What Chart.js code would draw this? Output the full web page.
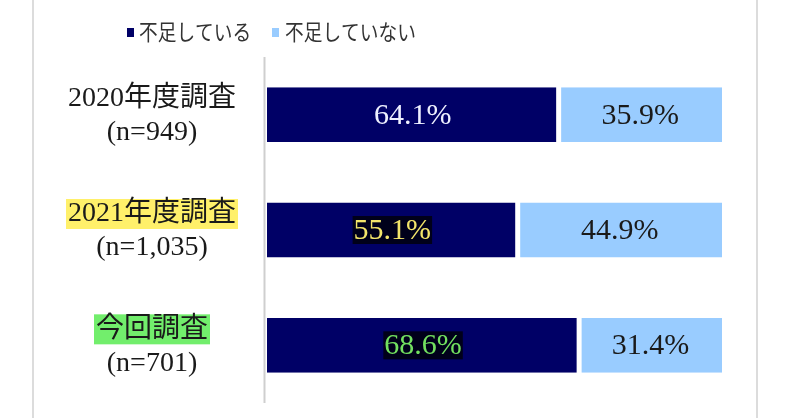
<!DOCTYPE html>
<html><head><meta charset="utf-8">
<script src="https://cdn.jsdelivr.net/npm/chart.js@4"></script>
<style>html,body{margin:0;padding:0;background:#fff}#wrap{width:800px;height:418px;position:relative}</style>
</head><body><div id="wrap"><canvas id="c" width="800" height="418"></canvas></div>
<script>
const categories = [['2020年度調査','(n=949)'],['2021年度調査','(n=1,035)'],['今回調査','(n=701)']];
const seriesNames = ['不足している','不足していない'];
const shortValues = [64.1, 55.1, 68.6];
const notShortValues = [35.9, 44.9, 31.4];

const DARK = '#000066', LIGHT = '#99ccff';
const catHighlight = [null, '#fff06a', '#72ee6c'];
const darkLabelColor = ['#eef0ff', '#f3e56a', '#72e060'];
const darkLabelBox = [null, '#00001a', '#00001a'];
const serif = '"Liberation Serif", "Noto Sans CJK JP", serif';

function line(ctx,x1,y1,x2,y2){ctx.beginPath();ctx.moveTo(x1,y1);ctx.lineTo(x2,y2);ctx.stroke();}

const deco = {
  id: 'deco',
  beforeDraw(chart) {
    const ctx = chart.ctx, a = chart.chartArea;
    ctx.save();
    ctx.fillStyle = '#fff'; ctx.fillRect(0, 0, chart.width, chart.height);
    ctx.strokeStyle = '#dcdcdc'; ctx.lineWidth = 2;
    line(ctx, 33, 0, 33, chart.height);
    line(ctx, 757, 0, 757, chart.height);
    ctx.strokeStyle = '#cfcfcf'; ctx.lineWidth = 2;
    line(ctx, 264.5, a.top, 264.5, a.bottom);
    // legend
    ctx.textBaseline = 'middle'; ctx.textAlign = 'left';
    const items = [{c: DARK, sx: 127, tx: 139}, {c: LIGHT, sx: 272, tx: 285}];
    items.forEach((it, i) => {
      ctx.fillStyle = it.c; ctx.fillRect(it.sx, 28, 7, 9);
      ctx.save();
      ctx.translate(it.tx, 32);
      ctx.scale(0.85, 1);
      ctx.font = '22px "Noto Sans CJK JP", sans-serif';
      ctx.fillStyle = '#333'; ctx.fillText(seriesNames[i], 0, 0);
      ctx.restore();
    });
    // category labels
    const ys = chart.scales.y;
    ctx.font = '28px ' + serif;
    ctx.textAlign = 'center';
    categories.forEach((lines, i) => {
      const cy = ys.getPixelForValue(i);
      const cx = 152;
      const y1 = cy - 16, y2 = cy + 18;
      if (catHighlight[i]) {
        const w = ctx.measureText(lines[0]).width;
        ctx.fillStyle = catHighlight[i];
        ctx.fillRect(cx - w / 2 - 2, y1 - 15, w + 4, 30);
      }
      ctx.fillStyle = '#1a1a1a';
      ctx.fillText(lines[0], cx, y1);
      ctx.fillText(lines[1], cx, y2);
    });
    ctx.restore();
  },
  afterDatasetsDraw(chart) {
    const ctx = chart.ctx;
    ctx.save();
    ctx.font = '30px ' + serif;
    ctx.textAlign = 'center'; ctx.textBaseline = 'middle';
    chart.data.datasets.forEach((ds, di) => {
      const meta = chart.getDatasetMeta(di);
      meta.data.forEach((el, i) => {
        const p = el.getProps(['x', 'y', 'base'], true);
        const cx = (p.x + p.base) / 2;
        const txt = ds.data[i].toFixed(1) + '%';
        if (di === 0) {
          if (darkLabelBox[i]) {
            const w = ctx.measureText(txt).width;
            ctx.fillStyle = darkLabelBox[i];
            ctx.fillRect(cx - w / 2 - 1, p.y - 14, w + 2, 28);
          }
          ctx.fillStyle = darkLabelColor[i];
        } else {
          ctx.fillStyle = '#1a1a1a';
        }
        ctx.fillText(txt, cx, p.y + 1);
      });
    });
    ctx.restore();
  }
};

new Chart(document.getElementById('c'), {
  type: 'bar',
  data: {
    labels: categories.map(c => c.join(' ')),
    datasets: [
      {label: seriesNames[0], data: shortValues, backgroundColor: DARK, borderColor: '#ffffff',
       borderWidth: {top: 0, bottom: 0, left: 0, right: 2.5}, borderSkipped: false,
       categoryPercentage: 1, barPercentage: 0.475},
      {label: seriesNames[1], data: notShortValues, backgroundColor: LIGHT, borderColor: '#ffffff',
       borderWidth: {top: 0, bottom: 0, left: 2.5, right: 0}, borderSkipped: false,
       categoryPercentage: 1, barPercentage: 0.475}
    ]
  },
  options: {
    indexAxis: 'y',
    responsive: false,
    animation: false,
    layout: {padding: {left: 0, right: 78, top: 57, bottom: 15}},
    plugins: {legend: {display: false}, tooltip: {enabled: false}},
    scales: {
      x: {stacked: true, min: 0, max: 100, display: false},
      y: {stacked: true, grid: {display: false}, border: {display: false},
          ticks: {display: false},
          afterFit(s) { s.width = 267; }}
    }
  },
  plugins: [deco]
});
</script></body></html>
